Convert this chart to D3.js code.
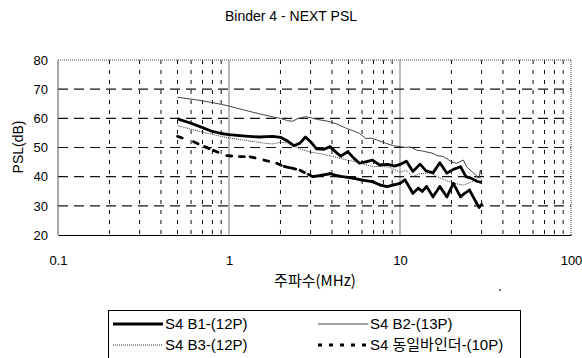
<!DOCTYPE html>
<html>
<head>
<meta charset="utf-8">
<script src="https://cdn.jsdelivr.net/npm/d3@7"></script>
<style>
  body { margin: 0; background: #fff; }
  svg { display: block; font-family: "Liberation Sans", Arial, sans-serif; }
</style>
</head>
<body>
<div class="container"></div>
<script>
const w = 582;
const h = 358;

// tick labels
const yTicks = [20, 30, 40, 50, 60, 70, 80];
const xTicks = [0.1, 1, 10, 100];

// S4 B1-(12P)
const b1Freq = [0.5, 0.6, 0.7, 0.8, 0.9, 1.0, 1.2, 1.5, 1.8, 2.0, 2.2, 2.4, 2.6, 2.8, 3.0, 3.25, 3.6, 3.9, 4.2, 4.5, 4.95, 5.4, 5.8, 6.2, 6.9, 7.6, 8.5, 9.3, 10, 10.9, 11.9, 13.1, 14.2, 15.6, 17.1, 18.8, 20.5, 22.6, 24.3, 26, 28, 30];
const b1Vals = [59.8, 58.3, 56.8, 55.5, 54.8, 54.4, 54.0, 53.6, 53.8, 53.5, 52.2, 50.6, 51.5, 53.6, 52.0, 49.5, 49.4, 50.3, 48.5, 47.0, 48.6, 46.2, 44.6, 45.0, 45.7, 44.0, 44.2, 43.6, 44.2, 45.3, 41.8, 44.3, 42.0, 41.3, 44.8, 41.2, 42.5, 43.4, 40.0, 39.5, 38.5, 38.0];

// S4 B2-(13P)
const b2Freq = [0.5, 0.6, 0.7, 0.8, 0.9, 1.0, 1.2, 1.4, 1.6, 1.8, 2.0, 2.2, 2.35, 2.5, 2.8, 3.0, 3.3, 3.8, 4.3, 4.85, 5.3, 5.8, 6.3, 6.8, 7.3, 8.3, 9.2, 10, 10.8, 11.5, 12.5, 13.5, 15.6, 16.5, 17.9, 19, 20, 21.5, 23.5, 24.5, 26, 27.5, 29, 29.5, 30];
const b2Vals = [67.2, 66.6, 66.0, 65.4, 64.8, 64.2, 63.0, 62.0, 61.2, 60.5, 60.0, 59.2, 59.0, 59.8, 60.6, 60.2, 59.6, 59.0, 58.0, 56.6, 55.8, 54.8, 53.1, 53.2, 52.6, 51.4, 50.6, 50.3, 50.0, 50.2, 49.1, 48.8, 48.0, 47.2, 46.9, 46.0, 45.0, 44.6, 45.7, 43.4, 42.0, 40.8, 39.5, 42.3, 40.5];

// S4 B3-(12P)
const b3Freq = [0.5, 0.6, 0.7, 0.8, 0.9, 1.0, 1.2, 1.4, 1.6, 1.8, 2.0, 2.2, 2.6, 3.0, 3.5, 4.0, 4.9, 5.8, 6.9, 7.8, 8.7, 10, 10.8, 11.9, 13, 15, 16.5, 18, 20.5, 23.5, 26.5, 29, 30];
const b3Vals = [57.5, 56.3, 55.3, 54.5, 53.8, 53.3, 52.6, 52.0, 51.5, 51.2, 51.8, 51.6, 49.5, 48.4, 47.8, 47.0, 45.7, 44.8, 43.4, 43.6, 43.2, 41.5, 42.2, 40.0, 41.0, 41.3, 40.0, 39.0, 37.8, 37.1, 38.3, 40.0, 39.0];

// S4 동일바인더-(10P)
const b4Freq = [0.5, 0.62, 0.72, 0.81, 0.97, 1.15, 1.33, 1.6, 1.9, 2.1, 2.3, 2.6, 2.9, 3.1, 3.5, 3.9, 4.4, 5.3, 6.0, 6.9, 7.6, 8.4, 9.2, 10, 10.7, 11.9, 12.8, 13.5, 14.3, 15.6, 17.1, 18.8, 20.5, 22.6, 23.5, 25.5, 28, 29, 30];
const b4Vals = [53.8, 52.0, 50.3, 49.0, 47.2, 46.9, 46.8, 45.7, 44.6, 43.5, 43.0, 42.2, 40.8, 40.0, 40.5, 41.0, 40.2, 39.5, 38.8, 38.3, 37.2, 36.6, 37.2, 37.7, 38.9, 34.3, 36.0, 35.0, 36.6, 33.1, 36.6, 33.1, 37.7, 33.1, 34.0, 35.4, 31.0, 29.5, 30.5];

const seriesNames = ['S4 B1-(12P)', 'S4 B2-(13P)', 'S4 B3-(12P)', 'S4 동일바인더-(10P)'];

// line styles per series (legend samples use the same)
const styles = [
  { width: 2.8, dash: null, color: '#000' },
  { width: 1, dash: null, color: '#444' },
  { width: 1, dash: '1,1', color: '#333' },
  { width: 2.8, dash: '4,7', color: '#000' }
];

const series = [
  b1Freq.map((f, i) => ({ f: f, v: b1Vals[i] })),
  b2Freq.map((f, i) => ({ f: f, v: b2Vals[i] })),
  b3Freq.map((f, i) => ({ f: f, v: b3Vals[i] })),
  b4Freq.map((f, i) => ({ f: f, v: b4Vals[i] }))
];

const pLeft = 58, pRight = 571, pTop = 60, pBottom = 235;

const xScale = d3.scaleLog().domain([0.1, 100]).range([pLeft, pRight]);
const yScale = d3.scaleLinear().domain([20, 80]).range([pBottom, pTop]);

const svg = d3.select('.container')
  .append('svg')
  .attr('width', w)
  .attr('height', h);

// title
svg.append('text')
  .attr('x', 291)
  .attr('y', 21)
  .attr('text-anchor', 'middle')
  .style('font-size', '14px')
  .text('Binder 4 - NEXT PSL');

// minor vertical grid lines
const minor = [];
[0.1, 1, 10].forEach((d) => {
  for (let k = 2; k <= 9; k++) minor.push(d * k);
});
svg.append('g')
  .selectAll('line')
  .data(minor)
  .enter()
  .append('line')
  .attr('x1', (d) => xScale(d))
  .attr('x2', (d) => xScale(d))
  .attr('y1', pTop)
  .attr('y2', pBottom)
  .attr('stroke', '#111')
  .attr('stroke-width', 1)
  .attr('stroke-dasharray', '4,6');

// major vertical grid lines
svg.append('g')
  .selectAll('line')
  .data([1, 10])
  .enter()
  .append('line')
  .attr('x1', (d) => xScale(d))
  .attr('x2', (d) => xScale(d))
  .attr('y1', pTop)
  .attr('y2', pBottom)
  .attr('stroke', '#777')
  .attr('stroke-width', 1);

// horizontal grid lines
svg.append('g')
  .selectAll('line')
  .data(yTicks.slice(1, -1))
  .enter()
  .append('line')
  .attr('x1', pLeft)
  .attr('x2', pRight)
  .attr('y1', (d) => yScale(d))
  .attr('y2', (d) => yScale(d))
  .attr('stroke', '#111')
  .attr('stroke-width', 1.2)
  .attr('stroke-dasharray', '10,6');

// plot border: top and right dotted, left solid
svg.append('line')
  .attr('x1', pLeft).attr('x2', pRight)
  .attr('y1', yScale(80)).attr('y2', yScale(80))
  .attr('stroke', '#444').attr('stroke-dasharray', '1,1');
svg.append('line')
  .attr('x1', pRight).attr('x2', pRight)
  .attr('y1', pTop).attr('y2', pBottom)
  .attr('stroke', '#444').attr('stroke-dasharray', '1,1');
svg.append('line')
  .attr('x1', pLeft).attr('x2', pLeft)
  .attr('y1', pTop).attr('y2', pBottom)
  .attr('stroke', '#555');

// data lines
const line = d3.line()
  .x((d) => xScale(d.f))
  .y((d) => yScale(d.v));

svg.append('g')
  .selectAll('path')
  .data(series.slice(0, 3))
  .enter()
  .append('path')
  .attr('d', line)
  .attr('fill', 'none')
  .attr('stroke', (d, i) => styles[i].color)
  .attr('stroke-width', (d, i) => styles[i].width)
  .attr('stroke-dasharray', (d, i) => styles[i].dash)
  .attr('stroke-linejoin', 'round');

// dashed series: dashes only show where the points are sparse (below ~3 MHz),
// above that the measurement is dense and the line prints solid
svg.append('g')
  .selectAll('path')
  .data(d3.pairs(series[3]))
  .enter()
  .append('path')
  .attr('d', line)
  .attr('fill', 'none')
  .attr('stroke', styles[3].color)
  .attr('stroke-width', styles[3].width)
  .attr('stroke-linecap', 'round')
  .attr('stroke-dasharray', (d) => (d[0].f < 2.9 ? '5,30' : null));

// y axis
const yAxis = d3.axisLeft(yScale)
  .tickValues(yTicks)
  .tickSize(0)
  .tickPadding(10)
  .tickFormat(d3.format('d'));
svg.append('g')
  .attr('id', 'y-axis')
  .attr('transform', 'translate(' + pLeft + ',0)')
  .call(yAxis)
  .call((g) => g.select('.domain').remove())
  .selectAll('text')
  .style('font-size', '13px')
  .style('font-family', '"Liberation Sans", Arial, sans-serif')
  .attr('fill', '#000');

// x axis
const xAxis = d3.axisBottom(xScale)
  .tickValues(xTicks)
  .tickSize(0)
  .tickPadding(21)
  .tickFormat((d) => String(d));
svg.append('g')
  .attr('id', 'x-axis')
  .attr('transform', 'translate(0,' + pBottom + ')')
  .call(xAxis)
  .call((g) => g.select('.domain').attr('stroke', '#000').attr('stroke-width', 1.2))
  .selectAll('text')
  .style('font-size', '13px')
  .style('font-family', '"Liberation Sans", Arial, sans-serif')
  .attr('fill', '#000');

// axis titles
svg.append('text')
  .attr('transform', 'rotate(270)')
  .attr('x', -147)
  .attr('y', 23)
  .attr('text-anchor', 'middle')
  .style('font-size', '14px')
  .text('PSL(dB)');

svg.append('text')
  .attr('x', 315)
  .attr('y', 286)
  .attr('text-anchor', 'middle')
  .style('font-size', '15px')
  .style('font-family', '"Noto Sans CJK KR", "Liberation Sans", sans-serif')
  .text('주파수(MHz)');

// stray mark under the x axis title
svg.append('circle')
  .attr('cx', 500)
  .attr('cy', 290)
  .attr('r', 0.9)
  .attr('fill', '#333');

// legend
const legend = svg.append('g').attr('id', 'legend');
legend.append('rect')
  .attr('x', 108.5)
  .attr('y', 310.5)
  .attr('width', 412)
  .attr('height', 60)
  .attr('fill', '#fff')
  .attr('stroke', '#000')
  .attr('stroke-width', 1);

const legendPos = [
  { x: 113, y: 324 },
  { x: 318, y: 324 },
  { x: 113, y: 345 },
  { x: 318, y: 345 }
];

const item = legend.selectAll('.item')
  .data(seriesNames)
  .enter()
  .append('g')
  .attr('class', 'item')
  .attr('transform', (d, i) => 'translate(' + legendPos[i].x + ',' + legendPos[i].y + ')');

item.append('line')
  .attr('x1', 0)
  .attr('x2', 50)
  .attr('y1', 0)
  .attr('y2', 0)
  .attr('stroke', (d, i) => styles[i].color)
  .attr('stroke-width', (d, i) => styles[i].width)
  .attr('stroke-dasharray', (d, i) => styles[i].dash);

item.append('text')
  .attr('x', 52)
  .attr('y', 5)
  .style('font-size', '15px')
  .style('font-family', '"Liberation Sans", "Noto Sans CJK KR", sans-serif')
  .text((d) => d);
</script>
</body>
</html>
